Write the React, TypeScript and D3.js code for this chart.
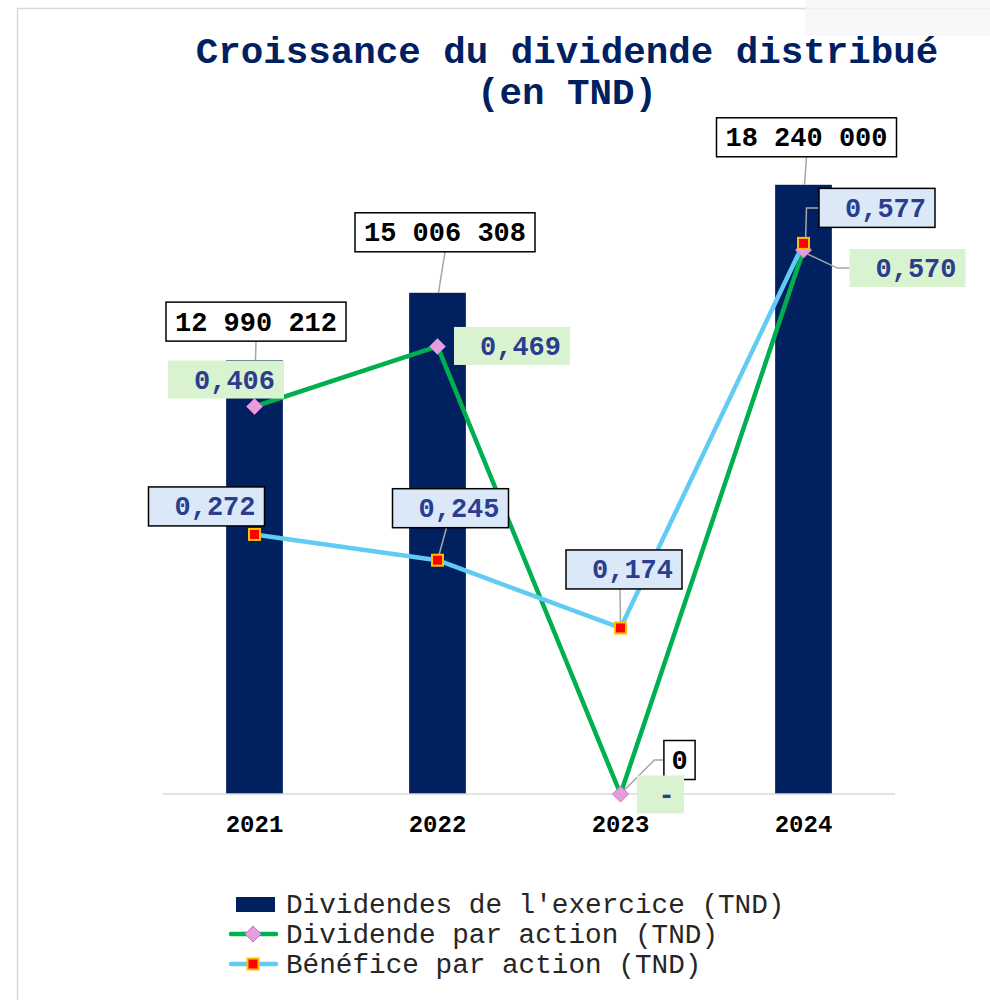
import * as d3 from "d3";

const YEARS = ["2021", "2022", "2023", "2024"];
const DIVIDENDS = [12990212, 15006308, 0, 18240000];
const DIVIDEND_PER_SHARE = [0.406, 0.469, 0, 0.57];
const EARNINGS_PER_SHARE = [0.272, 0.245, 0.174, 0.577];
const DIVIDEND_LABELS = ["12 990 212", "15 006 308", "0", "18 240 000"];
const DPS_LABELS = ["0,406", "0,469", "-", "0,570"];
const EPS_LABELS = ["0,272", "0,245", "0,174", "0,577"];
const LEGEND = [
  "Dividendes de l'exercice (TND)",
  "Dividende par action (TND)",
  "Bénéfice par action (TND)",
];

const W = 990;
const H = 1000;
const MONO = "'Liberation Mono', 'Courier New', monospace";
const NAVY = "#00205f";
const GREEN = "#00b050";
const SKY = "#61cbf3";
const LABEL_BLUE = "#2b3d8f";
const LEADER = "#a6a6a6";

const x = d3.scaleBand<string>().domain(YEARS).range([163, 895]);
const yBar = d3.scaleLinear().domain([0, 20000000]).range([794, 126]);
const yLine = d3.scaleLinear().domain([0, 0.7]).range([794, 126]);
const cx = (y: string) => (x(y) ?? 0) + x.bandwidth() / 2;
const barW = x.bandwidth() * 0.31;

// label box placement relative to anchor point (centre offsets), per year
const barBox = [
  { dx: 1.5, dy: -19 - 19.5 },
  { dx: 7.5, dy: -41 - 19.5 },
  { dx: 59, dy: -34 },
  { dx: 3, dy: -28 - 19.5 },
];
const dpsBox = [
  { dx: -28.5, dy: -27, w: 116 },
  { dx: 74.5, dy: -0.5, w: 116 },
  { dx: 40, dy: 0.5, w: 47 },
  { dx: 104, dy: 18, w: 116 },
];
const epsBox = [
  { dx: -48, dy: -28 },
  { dx: 13, dy: -52 },
  { dx: 3.5, dy: -58.5 },
  { dx: 73.5, dy: -35.5 },
];

function Diamond({ px, py }: { px: number; py: number }) {
  const s = 8;
  return (
    <path
      d={`M${px},${py - s}L${px + s},${py}L${px},${py + s}L${px - s},${py}Z`}
      fill="#e59edd"
      stroke="#d070c8"
      strokeWidth={1}
    />
  );
}

function Square({ px, py }: { px: number; py: number }) {
  return (
    <rect x={px - 5.5} y={py - 5.5} width={11} height={11} fill="#ff0000" stroke="#ffc000" strokeWidth={2} />
  );
}

export default function App() {
  const line = d3
    .line<number>()
    .x((_, i) => cx(YEARS[i]));

  const dpsPath = line.y((d) => yLine(d))(DIVIDEND_PER_SHARE) ?? "";
  const epsPath = line.y((d) => yLine(d))(EARNINGS_PER_SHARE) ?? "";

  const charW = 16.2;

  return (
    <svg
      width={W}
      height={H}
      style={{ position: "absolute", left: 0, top: 0, background: "#fff" }}
      fontFamily={MONO}
    >
      <rect x={17.5} y={8.5} width={W} height={H} fill="#fff" stroke="#d9d9d9" strokeWidth={1.5} />
      <rect x={805} y={0} width={185} height={36} fill="#f4f6f9" opacity={0.8} />

      <text x={567} y={63} textAnchor="middle" fontSize={37.5} fontWeight="bold" fill={NAVY}>
        Croissance du dividende distribué
      </text>
      <text x={567} y={104} textAnchor="middle" fontSize={37.5} fontWeight="bold" fill={NAVY}>
        (en TND)
      </text>

      {/* bars */}
      {YEARS.map((yr, i) => (
        <rect
          key={yr}
          x={cx(yr) - barW / 2}
          y={yBar(DIVIDENDS[i])}
          width={barW}
          height={yBar(0) - yBar(DIVIDENDS[i])}
          fill={NAVY}
        />
      ))}

      {/* axis */}
      <line x1={163} x2={895} y1={yBar(0)} y2={yBar(0)} stroke="#d9d9d9" strokeWidth={1.5} />
      {YEARS.map((yr) => (
        <text key={yr} x={cx(yr)} y={832} textAnchor="middle" fontSize={24} fontWeight="bold" fill="#000">
          {yr}
        </text>
      ))}

      {/* leader lines */}
      {YEARS.map((yr, i) => {
        const ax = cx(yr);
        const ay = yBar(DIVIDENDS[i]);
        const b = barBox[i];
        const bw = DIVIDEND_LABELS[i].length * charW + 16;
        const bx = ax + b.dx;
        const by = ay + b.dy;
        if (DIVIDENDS[i] === 0) {
          const lx = bx - bw / 2;
          return (
            <path key={yr} d={`M${lx},${by}L${lx - 9},${by}L${ax},${ay}`} fill="none" stroke={LEADER} strokeWidth={1.5} />
          );
        }
        return <line key={yr} x1={bx} y1={by + 19.5} x2={ax + 1} y2={ay} stroke={LEADER} strokeWidth={1.5} />;
      })}
      {YEARS.map((yr, i) => {
        const ax = cx(yr);
        const ay = yLine(EARNINGS_PER_SHARE[i]);
        const b = epsBox[i];
        const bx = ax + b.dx;
        const by = ay + b.dy;
        if (i === 3) {
          const lx = bx - 58;
          return (
            <path key={yr} d={`M${lx},${by}L${ax + 3},${by}L${ax + 2},${ay}`} fill="none" stroke={LEADER} strokeWidth={1.5} />
          );
        }
        if (i === 0) return null;
        return <line key={yr} x1={bx - 4} y1={by + 19.5} x2={ax} y2={ay} stroke={LEADER} strokeWidth={1.5} />;
      })}
      {(() => {
        const i = 3;
        const ax = cx(YEARS[i]);
        const ay = yLine(DIVIDEND_PER_SHARE[i]);
        const b = dpsBox[i];
        const lx = ax + b.dx - b.w / 2;
        const ly = ay + b.dy;
        return <path d={`M${lx},${ly}L${lx - 12},${ly}L${ax + 2},${ay + 3}`} fill="none" stroke={LEADER} strokeWidth={1.5} />;
      })()}

      {/* lines */}
      <path d={dpsPath} fill="none" stroke={GREEN} strokeWidth={4.5} strokeLinejoin="round" />
      <path d={epsPath} fill="none" stroke={SKY} strokeWidth={4.5} strokeLinejoin="round" />
      {YEARS.map((yr, i) => (
        <Diamond key={yr} px={cx(yr)} py={yLine(DIVIDEND_PER_SHARE[i])} />
      ))}
      {YEARS.map((yr, i) => (
        <Square key={yr} px={cx(yr)} py={yLine(EARNINGS_PER_SHARE[i])} />
      ))}

      {/* dividend labels */}
      {YEARS.map((yr, i) => {
        const ax = cx(yr);
        const ay = yBar(DIVIDENDS[i]);
        const b = barBox[i];
        const bw = DIVIDEND_LABELS[i].length * charW + (DIVIDENDS[i] === 0 ? 15 : 18);
        const bx = ax + b.dx;
        const by = ay + b.dy;
        return (
          <g key={yr}>
            <rect x={bx - bw / 2} y={by - 19.5} width={bw} height={39} fill="#fff" stroke="#000" strokeWidth={1.5} />
            <text x={bx} y={by + 9} textAnchor="middle" fontSize={27} fontWeight="bold" fill="#000">
              {DIVIDEND_LABELS[i]}
            </text>
          </g>
        );
      })}

      {/* dividend per share labels */}
      {YEARS.map((yr, i) => {
        const ax = cx(yr);
        const ay = yLine(DIVIDEND_PER_SHARE[i]);
        const b = dpsBox[i];
        const bx = ax + b.dx;
        const by = ay + b.dy;
        const dash = DPS_LABELS[i] === "-";
        return (
          <g key={yr}>
            <rect x={bx - b.w / 2} y={by - 19} width={b.w} height={38} fill="#d9f2d0" />
            <text
              x={dash ? bx + 6 : bx + b.w / 2 - 9}
              y={by + 9}
              textAnchor={dash ? "middle" : "end"}
              fontSize={27}
              fontWeight="bold"
              fill={LABEL_BLUE}
            >
              {DPS_LABELS[i]}
            </text>
          </g>
        );
      })}

      {/* earnings per share labels */}
      {YEARS.map((yr, i) => {
        const ax = cx(yr);
        const ay = yLine(EARNINGS_PER_SHARE[i]);
        const b = epsBox[i];
        const bx = ax + b.dx;
        const by = ay + b.dy;
        return (
          <g key={yr}>
            <rect x={bx - 58} y={by - 19.5} width={116} height={39} fill="#dae8f7" stroke="#000" strokeWidth={1.5} />
            <text x={bx + 58 - 9} y={by + 9} textAnchor="end" fontSize={27} fontWeight="bold" fill={LABEL_BLUE}>
              {EPS_LABELS[i]}
            </text>
          </g>
        );
      })}

      {/* legend */}
      <g>
        <rect x={236} y={897} width={39} height={15} fill={NAVY} />
        <line x1={231} x2={276} y1={934} y2={934} stroke={GREEN} strokeWidth={4.5} strokeLinecap="round" />
        <Diamond px={253} py={934} />
        <line x1={231} x2={276} y1={964} y2={964} stroke={SKY} strokeWidth={4.5} strokeLinecap="round" />
        <Square px={253} py={964} />
        {LEGEND.map((t, i) => (
          <text key={t} x={286} y={913 + i * 30} fontSize={27.7} fill="#262626">
            {t}
          </text>
        ))}
      </g>
    </svg>
  );
}
